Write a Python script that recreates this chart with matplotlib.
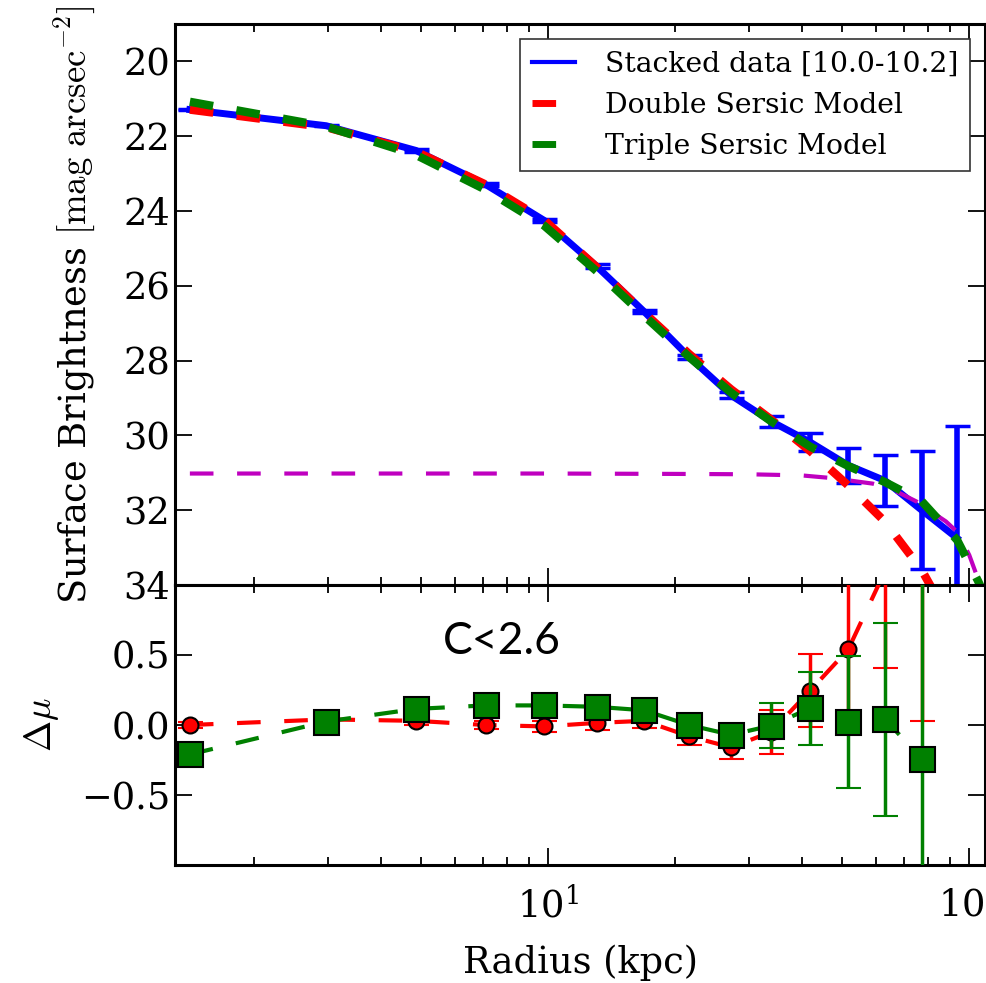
import matplotlib
matplotlib.use("Agg")
import matplotlib.pyplot as plt
from matplotlib.lines import Line2D
import numpy as np

plt.rcParams['font.family'] = ['DejaVu Serif']
plt.rcParams['mathtext.fontset'] = 'cm'
plt.rcParams['lines.scale_dashes'] = False

# ---- data ----
radius = [1.41, 2.97, 4.85, 7.10, 9.78, 13.04, 16.9, 21.6, 27.2, 33.8, 41.9, 51.6, 63.1, 77.1, 93.6]
mu_data = [21.29, 21.72, 22.38, 23.29, 24.25, 25.48, 26.69, 27.90, 28.93, 29.62, 30.18, 30.80, 31.21, 32.00, 32.75]
mu_err = [0.02, 0.02, 0.03, 0.03, 0.04, 0.05, 0.05, 0.06, 0.08, 0.15, 0.25, 0.46, 0.68, 1.57, 3.00]

radius_double = [1.41, 2.97, 4.85, 7.10, 9.78, 13.04, 16.9, 21.6, 27.2, 33.8, 41.9, 51.6, 63.1, 77.1, 93.6]
mu_double = [21.29, 21.76, 22.41, 23.29, 24.24, 25.50, 26.72, 27.82, 28.77, 29.57, 30.42, 31.34, 32.31, 33.60, 35.30]

radius_triple = [1.41, 2.97, 4.85, 7.10, 9.78, 13.04, 16.9, 21.6, 27.2, 33.8, 41.9, 51.6, 63.1, 77.1, 93.6, 105.0, 112.0]
mu_triple = [21.08, 21.74, 22.50, 23.43, 24.39, 25.61, 26.80, 27.90, 28.86, 29.62, 30.30, 30.82, 31.25, 31.76, 32.80, 33.90, 34.60]

radius_comp = [1.41, 10.0, 20.0, 30.0, 40.0, 47.0, 59.0, 65.0, 75.0, 81.0, 88.0, 94.0, 100.0, 105.0, 112.0]
mu_comp = [31.02, 31.02, 31.03, 31.04, 31.07, 31.14, 31.29, 31.42, 31.77, 32.03, 32.30, 32.60, 33.20, 33.85, 34.60]

res_radius = [1.41, 2.97, 4.85, 7.10, 9.78, 13.04, 16.9, 21.6, 27.2, 33.8, 41.9, 51.6, 63.1, 77.1]
res_double = [0.00, 0.04, 0.03, 0.00, -0.01, 0.015, 0.03, -0.08, -0.16, -0.05, 0.245, 0.54, 1.10, 1.60]
res_triple = [-0.21, 0.025, 0.115, 0.14, 0.14, 0.13, 0.105, 0.00, -0.07, -0.005, 0.12, 0.02, 0.04, -0.24]
res_err = [0.02, 0.02, 0.03, 0.03, 0.04, 0.05, 0.05, 0.06, 0.08, 0.16, 0.26, 0.47, 0.69, 1.57]

legend_labels = ['Stacked data [10.0-10.2]', 'Double Sersic Model', 'Triple Sersic Model']
label_text = 'C<2.6'

DASH = (17, 17)

fig = plt.figure(figsize=(9.86, 9.83), dpi=100)
ax1 = fig.add_axes([0.1775, 0.4049, 0.8215, 0.5707])
ax2 = fig.add_axes([0.1775, 0.1200, 0.8215, 0.2849], sharex=ax1)

# ---- top panel ----
ax1.errorbar(radius, mu_data, yerr=mu_err, color='blue', lw=5, elinewidth=4,
             capsize=9, capthick=2.5, zorder=2)
ax1.plot(radius_comp, mu_comp, color='m', lw=3, dashes=DASH, zorder=3)
ax1.plot(radius_double, mu_double, color='red', lw=6, dashes=DASH, zorder=4)
ax1.plot(radius_triple, mu_triple, color='green', lw=6, dashes=DASH, zorder=5)

ax1.set_xscale('log')
ax1.set_xlim(1.30, 109)
ax1.set_ylim(34, 19)
ax1.set_yticks([20, 22, 24, 26, 28, 30, 32, 34])
ax1.set_ylabel(r'Surface Brightness $\mathrm{[mag\ arcsec^{-2}]}$', fontsize=26.5, labelpad=18)
plt.setp(ax1.get_xticklabels(), visible=False)

handles = [Line2D([], [], color='blue', lw=3),
           Line2D([], [], color='red', lw=5, dashes=DASH),
           Line2D([], [], color='green', lw=5, dashes=DASH)]
leg = ax1.legend(handles, legend_labels, loc='upper right', fontsize=20.3,
                 fancybox=False, framealpha=1, edgecolor='0.2',
                 handlelength=1.55, handletextpad=1.05, borderaxespad=0.55)
leg.get_frame().set_linewidth(1.2)

# ---- bottom panel ----
ax2.errorbar(res_radius, res_double, yerr=res_err, color='red', lw=3, dashes=DASH,
             marker='o', ms=11.5, mfc='red', mec='black', mew=1.5,
             elinewidth=2.5, capsize=9, capthick=2, zorder=3)
ax2.errorbar(res_radius, res_triple, yerr=res_err, color='green', lw=3, dashes=DASH,
             marker='s', ms=18, mfc='green', mec='black', mew=1.5,
             elinewidth=2.5, capsize=9, capthick=2, zorder=4)

ax2.set_ylim(-1.0, 1.0)
ax2.set_yticks([-0.5, 0.0, 0.5])
ax2.set_ylabel(r'$\Delta\mu$', fontsize=27, labelpad=14)
ax2.set_xlabel('Radius (kpc)', fontsize=26.5, labelpad=14)
ax2.text(0.404, 0.797, label_text, transform=ax2.transAxes, fontsize=32,
         family='Lato', ha='center', va='center')

for ax in (ax1, ax2):
    ax.tick_params(which='both', direction='in', top=True, right=True, labelsize=26.5)
    ax.tick_params(which='major', length=12, width=1.3)
    ax.tick_params(which='minor', length=6, width=1.3)
    for s in ax.spines.values():
        s.set_linewidth(2.2)
ax2.tick_params(axis='x', which='both', pad=16)

fig.savefig('out.png', dpi=100)
